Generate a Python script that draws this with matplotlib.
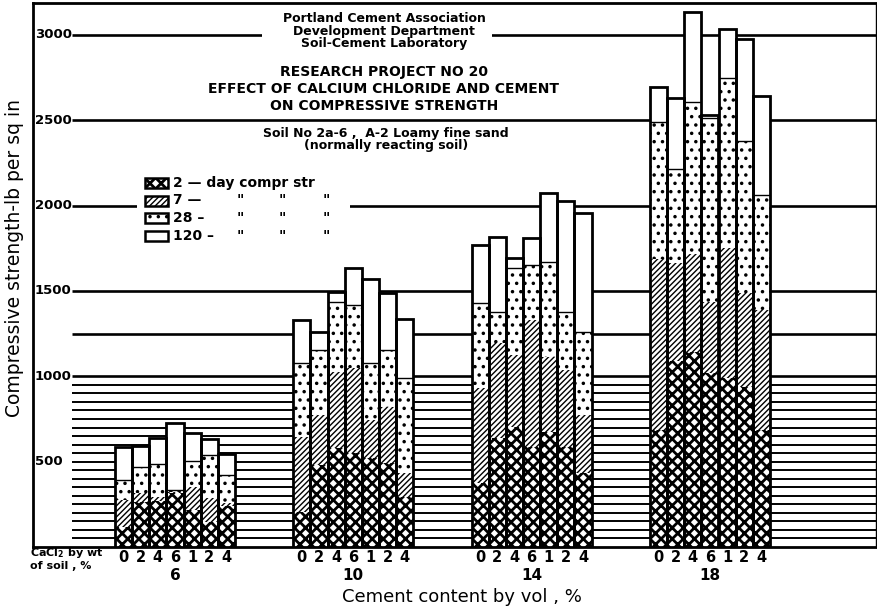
import matplotlib
matplotlib.use("Agg")
import matplotlib.pyplot as plt
from matplotlib.patches import Rectangle
import numpy as np

# ---------------- data ----------------
cement_content = ["6", "10", "14", "18"]           # cement content by vol, %
cacl2_labels = ["0", "2", "4", "6", "1", "2", "4"]  # CaCl2 by wt of soil, % (0, .2, .4, .6, 1, 2, 4)

# compressive strength, lb per sq in ; one list per cement content
strength_2day = [
    [119, 266, 270, 314, 217, 148, 240],
    [207, 481, 578, 549, 520, 490, 295],
    [373, 637, 705, 588, 676, 588, 432],
    [685, 1087, 1141, 1022, 989, 935, 685],
]
strength_7day = [
    [275, 314, 295, 324, 354, 285, 256],
    [647, 774, 1028, 1047, 744, 823, 432],
    [930, 1194, 1125, 1330, 1116, 1037, 774],
    [1685, 1663, 1717, 1435, 1750, 1489, 1391],
]
strength_28day = [
    [393, 471, 484, 334, 504, 539, 422],
    [1077, 1155, 1438, 1419, 1077, 1155, 989],
    [1428, 1379, 1633, 1653, 1672, 1379, 1262],
    [2489, 2217, 2609, 2511, 2750, 2380, 2065],
]
strength_120day = [
    [584, 594, 637, 725, 666, 631, 543],
    [1331, 1262, 1497, 1633, 1569, 1491, 1334],
    [1770, 1819, 1692, 1809, 2077, 2030, 1956],
    [2696, 2630, 3135, 2533, 3033, 2978, 2641],
]
major_lines = [1000, 1250, 1500, 2000, 2500, 3000]
minor_lines = list(range(50, 1000, 50))
ytick_labels = [500, 1000, 1500, 2000, 2500, 3000]

# ---------------- style / layout ----------------
plt.rcParams["font.family"] = ["DejaVu Sans"]
plt.rcParams["hatch.linewidth"] = 1.3
W, H = 878, 610
fig = plt.figure(figsize=(W / 100, H / 100), dpi=100)
AX_L, AX_R, AX_T, AX_B = 33, 876, 3, 547
ax = fig.add_axes([AX_L / W, 1 - AX_B / H, (AX_R - AX_L) / W, (AX_B - AX_T) / H])

def fx(px):
    return px / W

def fy(py):
    return 1 - py / H

BAR_PX = 17.15
GROUP_SP = 178.3 / BAR_PX
x_left = -0.5 - (115 - AX_L) / BAR_PX
x_right = x_left + (AX_R - AX_L) / BAR_PX
ax.set_xlim(x_left, x_right)
ax.set_ylim(0, (AX_B - AX_T) / 0.17067)
grid_start = -0.5 - (115 - 72) / BAR_PX

for s in ["left", "top", "bottom"]:
    ax.spines[s].set_linewidth(2.0)
ax.spines["right"].set_linewidth(1.0)
ax.set_xticks([])
ax.set_yticks([])

# grid lines
ax.hlines(major_lines, grid_start, x_right, colors="black", lw=1.9, zorder=1)
ax.hlines(minor_lines, grid_start, x_right, colors="black", lw=1.4, zorder=1)
for v in ytick_labels:
    ax.text(x_left + 0.1, v, str(v), ha="left", va="center", fontsize=9.5,
            fontweight="bold", zorder=5)

# bars
hatches = ["xxx", "//////", "..", ""]
hatch_lws = [2.0, 1.0, 1.3, 1.0]
series = [strength_2day, strength_7day, strength_28day, strength_120day]

def set_hlw(artist, lw):
    if hasattr(artist, "set_hatch_linewidth"):
        artist.set_hatch_linewidth(lw)

for g in range(len(cement_content)):
    xs = g * GROUP_SP + np.arange(len(cacl2_labels))
    prev = np.zeros(len(xs))
    for k, ser in enumerate(series):
        top = np.array(ser[g], dtype=float)
        heights = np.clip(top - prev, 0, None)
        with plt.rc_context({"hatch.linewidth": hatch_lws[k]}):
            bars = ax.bar(xs, heights, bottom=prev, width=1.0, facecolor="white",
                          edgecolor="black", linewidth=0, hatch=hatches[k] or None,
                          zorder=3)
        for b in bars:
            set_hlw(b, hatch_lws[k])
        prev = np.maximum(prev, top)
    ax.bar(xs, strength_120day[g], width=1.0, fill=False, edgecolor="black",
           linewidth=2.0, zorder=4)
    # 28-day boundary line
    ax.hlines(strength_28day[g], xs - 0.5, xs + 0.5, colors="black", lw=1.0, zorder=4)
    # bar labels
    for x, lab in zip(xs, cacl2_labels):
        fig.text(fx(AX_L + (x - x_left) * BAR_PX), fy(557), lab, ha="center",
                 va="center", fontsize=10.5, fontweight="bold")
    fig.text(fx(AX_L + (xs.mean() - x_left) * BAR_PX), fy(575), cement_content[g],
             ha="center", va="center", fontsize=11, fontweight="bold")

# axis labels
fig.text(fx(15), fy(258), "Compressive strength-lb per sq in", rotation=90,
         ha="center", va="center", fontsize=13.5)
fig.text(fx(462), fy(597), "Cement content by vol , %", ha="center", va="center",
         fontsize=13)
fig.text(fx(30), fy(553), r"CaCl$_\mathbf{2}$ by wt", ha="left", va="center",
         fontsize=8, fontweight="bold")
fig.text(fx(30), fy(566), "of soil , %", ha="left", va="center", fontsize=8,
         fontweight="bold")

# titles
fig.add_artist(Rectangle((fx(262), fy(42)), fx(492) - fx(262), fy(26) - fy(42),
                         transform=fig.transFigure, facecolor="white",
                         edgecolor="none", zorder=2))
cx = fx(384)
fig.text(cx, fy(18), "Portland Cement Association", ha="center", va="center",
         fontsize=9, fontweight="bold", zorder=6)
fig.text(cx, fy(31), "Development Department", ha="center", va="center",
         fontsize=9, fontweight="bold", zorder=6)
fig.text(cx, fy(44), "Soil-Cement Laboratory", ha="center", va="center",
         fontsize=9, fontweight="bold", zorder=6)
fig.text(cx, fy(72), "RESEARCH PROJECT NO 20", ha="center", va="center",
         fontsize=10, fontweight="bold")
fig.text(cx, fy(89), "EFFECT OF CALCIUM CHLORIDE AND CEMENT", ha="center",
         va="center", fontsize=10, fontweight="bold")
fig.text(cx, fy(106), "ON COMPRESSIVE STRENGTH", ha="center", va="center",
         fontsize=10, fontweight="bold")
fig.text(fx(386), fy(133), "Soil No 2a-6 ,  A-2 Loamy fine sand", ha="center",
         va="center", fontsize=9, fontweight="bold")
fig.text(fx(386), fy(146), "(normally reacting soil)", ha="center", va="center",
         fontsize=9, fontweight="bold")

# legend
fig.add_artist(Rectangle((fx(137), fy(246)), fx(350) - fx(137), fy(172) - fy(246),
                         transform=fig.transFigure, facecolor="white",
                         edgecolor="none", zorder=2))
legend_rows = [("2", "— day compr str"), ("7", "—"), ("28", "–"), ("120", "–")]
for r, ((age, rest), hatch) in enumerate(zip(legend_rows, hatches)):
    yc = 183 + r * 17.5
    with plt.rc_context({"hatch.linewidth": hatch_lws[r]}):
        rect = Rectangle((fx(145), fy(yc + 5)), fx(168) - fx(145),
                         fy(yc - 5) - fy(yc + 5), transform=fig.transFigure,
                         facecolor="white", edgecolor="black", lw=1.8,
                         hatch=hatch or None, zorder=3)
    set_hlw(rect, hatch_lws[r])
    fig.add_artist(rect)
    fig.text(fx(173), fy(yc), age + " " + rest, ha="left", va="center",
             fontsize=10, fontweight="bold", zorder=4)
    if r > 0:
        for dx in (240, 282, 326):
            fig.text(fx(dx), fy(yc), '"', ha="center", va="center", fontsize=10,
                     fontweight="bold", zorder=4)

fig.savefig("out.png", dpi=100)
